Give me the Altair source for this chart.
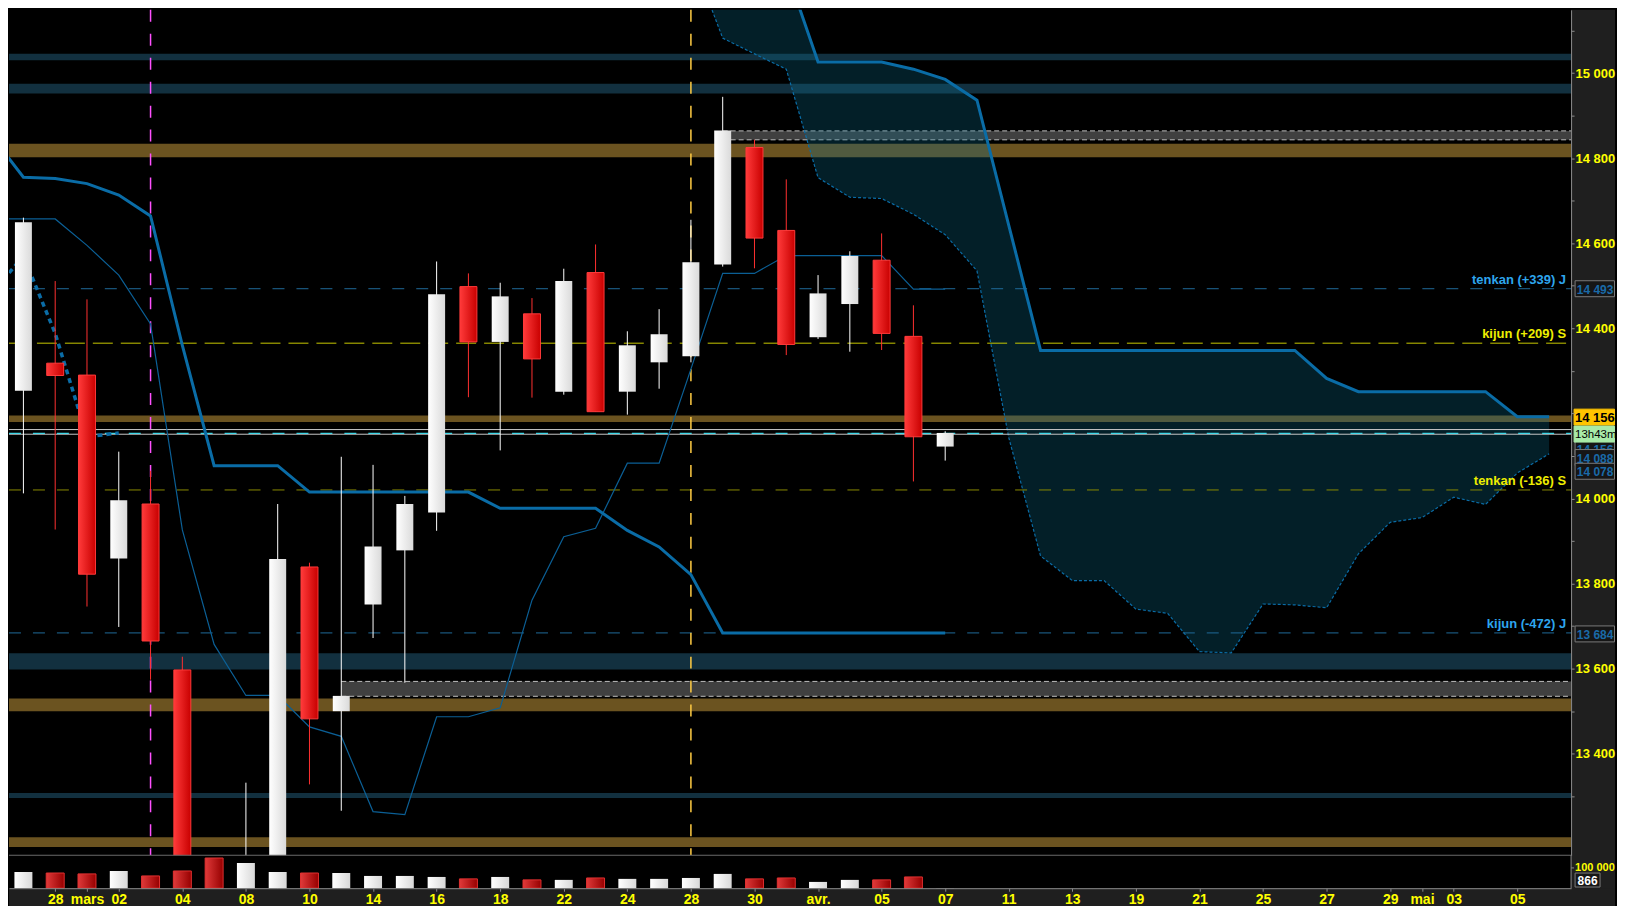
import altair as alt
import pandas as pd

# ---------------- data ----------------
idx = list(range(30))
o = [14253,14318,14290,13859,13987,13597,13120,12850,13060,13839,13500,13751,13878,13967,14498,
     14368,14434,14251,14531,14251,14320,14334,14550,14825,14630,14379,14457,14560,14381,14122]
h = [14660,14511,14468,14110,14065,13628,13150,13332,13987,13849,14098,14079,14006,14557,14529,
     14507,14471,14540,14597,14393,14445,14655,14944,14843,14750,14525,14581,14623,14454,14158]
l = [14012,13927,13746,13698,13574,13050,12700,12780,12990,13328,13266,13672,13567,13924,14238,
     14113,14237,14244,14204,14197,14258,14320,14545,14541,14337,14375,14345,14349,14040,14089]
c = [14649,14289,13822,13996,13665,13100,12800,13140,13858,13482,13536,13887,13987,14480,14368,
     14475,14328,14511,14204,14360,14386,14555,14865,14612,14362,14482,14570,14388,14145,14154]
volume = [80000,75000,70500,85000,60500,85000,149000,124500,80000,75000,75000,60500,60500,55500,46000,
          55500,41000,41000,50500,46000,46000,50500,70500,46000,50500,31000,41000,41000,55500,866]

line_idx = list(range(-1, 30))
tenkan = [14657,14657,14657,14595,14525,14410,13926,13657,13537,13537,13463,13441,13264,13257,13487,13487,
          13508,13761,13910,13930,14083,14083,14304,14529,14529,14571,14571,14571,14571,14492,14492]
kijun = [14852,14755,14752,14740,14713,14664,14360,14077,14077,14077,14015,14015,14015,14015,14015,14015,
         13977,13977,13977,13977,13925,13886,13821,13684,13684,13684,13684,13684,13684,13684,13684]

cloud_idx = list(range(21, 49))
senkou_a = [15280,15082,15045,15009,14754,14708,14705,14668,14620,14535,14143,13865,13807,13807,
            13740,13730,13640,13637,13752,13750,13743,13870,13944,13955,14003,13986,14060,14105]
senkou_b = [15420,15360,15300,15243,15026,15026,15026,15009,14985,14936,14642,14348,14348,14348,
            14348,14348,14348,14348,14348,14348,14282,14251,14251,14251,14251,14251,14192,14192]

x_tick_idx = [1,2,3,5,7,9,11,13,15,17,19,21,23,25,27,29,31,33,35,37,39,41,43,44,45,47]
x_tick_lbl = ["28","mars","02","04","08","10","14","16","18","22","24","28","30","avr.","05","07",
              "11","13","19","21","25","27","29","mai","03","05"]

band_lo = [15030,14952,14843,14802,14180,13598,13535,13500,13296,13181]
band_hi = [15045,14975,14864,14834,14195,13636,13570,13530,13308,13204]
band_start = [-1,-1,22,-1,-1,-1,10,-1,-1,-1]
band_kind = ["blue","blue","gray","brown","brown","blue","gray","brown","blue","brown"]

lvl_price = [14493, 14365, 14020, 13684]
lvl_text = ["tenkan (+339) J", "kijun (+209) S", "tenkan (-136) S", "kijun (-472) J"]
lvl_kind = ["blue", "yellow", "olive", "blue"]

last_price = 14156
price_lines = [14162, 14151]
cyan_line = 14153
vlines_idx = [4, 21]

# ---------------- styling ----------------
W, HP, HV, RW, BH = 1565, 847, 33, 44, 18
H = HP + HV
FONT = "Liberation Sans"
BAND_COL = {"blue": "#12303f", "gray": "#404040", "brown": "#6b5320"}
LVL_COL = {"blue": "#1f6a9a", "yellow": "#c8c800", "olive": "#8a8a00"}
LVL_DASH = {"blue": [12, 12], "yellow": [20, 8], "olive": [12, 12]}
LVL_TXT = {"blue": "#2ea6ee", "yellow": "#eeee00", "olive": "#eeee00"}
ICHI = "#0a6ca6"

def grad(c1, c2):
    return {"gradient": "linear", "x1": 0, "x2": 1, "y1": 0, "y2": 0,
            "stops": [{"offset": 0, "color": c1}, {"offset": 1, "color": c2}]}

xs = alt.Scale(domain=[-0.2964, 48.534], nice=False, zero=False)
ps = alt.Scale(domain=[13161.4, 15148.5], range=[HP, 0], nice=False, zero=False)
vs = alt.Scale(domain=[0, 162560], range=[H, HP], nice=False, zero=False)

lbl_arr = [""] * 49
for i, t in zip(x_tick_idx, x_tick_lbl):
    lbl_arr[i] = t
x_expr = "[" + ",".join("'" + s + "'" for s in lbl_arr) + "][round(datum.value)]"

xaxis = alt.Axis(values=x_tick_idx, labelExpr=x_expr, orient="bottom", tickSize=3,
                 tickColor="#8c8c8c", domainColor="#8c8c8c", labelColor="#ffff00",
                 labelFont=FONT, labelFontSize=14, labelFontWeight="bold", labelPadding=1,
                 grid=False, title=None, labelOverlap=False, zindex=1)
yaxis = alt.Axis(values=list(range(13300, 15101, 100)),
                 labelExpr="(datum.value % 200 == 0 && datum.value != 14200) ? replace(format(datum.value, ','), ',', ' ') : ''",
                 orient="right", tickSize=3, tickColor="#8c8c8c", domainColor="#8c8c8c",
                 labelColor="#ffff00", labelFont=FONT, labelFontSize=13, labelFontWeight="bold",
                 labelPadding=1, grid=False, title=None, labelOverlap=False, zindex=1)

def PX(f="i"):
    return alt.X(f + ":Q", scale=xs, axis=xaxis)

def PY(f):
    return alt.Y(f + ":Q", scale=ps, axis=yaxis)

def VY(f):
    return alt.Y(f + ":Q", scale=vs, axis=None)

one = pd.DataFrame({"k": [0]})
P = []

# axis backgrounds
P.append(alt.Chart(one).mark_rect(color="#1f1f1f").encode(
    x=alt.value(W), x2=alt.value(W + RW), y=alt.value(0), y2=alt.value(H + BH)))
P.append(alt.Chart(one).mark_rect(color="#1f1f1f").encode(
    x=alt.value(0), x2=alt.value(W + RW), y=alt.value(H), y2=alt.value(H + BH)))

# horizontal zones
bands = pd.DataFrame({"lo": band_lo, "hi": band_hi, "s": band_start, "e": [49] * len(band_lo),
                      "col": [BAND_COL[k] for k in band_kind]})
P.append(alt.Chart(bands).mark_rect(clip=True).encode(
    x=PX("s"), x2=alt.X2("e"), y=PY("lo"), y2=alt.Y2("hi"), color=alt.Color("col:N", scale=None)))
gb = bands[[k == "gray" for k in band_kind]]
gb_edges = pd.DataFrame({"p": list(gb["lo"]) + list(gb["hi"]), "s": list(gb["s"]) * 2, "e": [49] * (2 * len(gb))})
P.append(alt.Chart(gb_edges).mark_rule(color="#bdbdbd", strokeDash=[5, 3], clip=True).encode(
    x=PX("s"), x2=alt.X2("e"), y=PY("p")))

# cloud
cloud = pd.DataFrame({"i": cloud_idx, "a": senkou_a, "b": senkou_b})
P.append(alt.Chart(cloud).mark_area(clip=True, color="#0b7090", opacity=0.28).encode(
    x=PX("i"), y=PY("a"), y2=alt.Y2("b")))
P.append(alt.Chart(cloud).mark_line(clip=True, color=ICHI, strokeWidth=1.2, strokeDash=[3, 2]).encode(
    x=PX("i"), y=PY("a")))
P.append(alt.Chart(cloud).mark_line(clip=True, color=ICHI, strokeWidth=3).encode(
    x=PX("i"), y=PY("b")))

# level lines and labels
for p, t, k in zip(lvl_price, lvl_text, lvl_kind):
    d = pd.DataFrame({"p": [p]})
    P.append(alt.Chart(d).mark_rule(color=LVL_COL[k], strokeDash=LVL_DASH[k], strokeWidth=1).encode(
        x=alt.value(0), x2=alt.value(W), y=PY("p")))
    P.append(alt.Chart(d).mark_text(align="right", baseline="middle", dy=-9, font=FONT, fontSize=13,
                                    fontWeight="bold", color=LVL_TXT[k]).encode(
        x=alt.value(W - 5), y=PY("p"), text=alt.value(t)))

pl = pd.DataFrame({"p": price_lines})
P.append(alt.Chart(pl).mark_rule(color="#c8c8c8", strokeWidth=1).encode(
    x=alt.value(0), x2=alt.value(W), y=PY("p")))
P.append(alt.Chart(pd.DataFrame({"p": [cyan_line]})).mark_rule(
    color="#40d8e8", strokeDash=[12, 12], strokeWidth=1.5).encode(x=alt.value(0), x2=alt.value(W), y=PY("p")))

# vertical session lines
vl = pd.DataFrame({"i": vlines_idx, "col": ["#ff50ff", "#ffcc44"]})
P.append(alt.Chart(vl).mark_rule(strokeDash=[12, 12], strokeWidth=1.5).encode(
    x=PX("i"), y=alt.value(0), y2=alt.value(HP), color=alt.Color("col:N", scale=None)))

# tenkan / kijun / chikou
tk = pd.DataFrame({"i": line_idx, "t": tenkan, "k": kijun})
P.append(alt.Chart(tk).mark_line(clip=True, color="#0b5f95", strokeWidth=1.2).encode(x=PX("i"), y=PY("t")))
P.append(alt.Chart(tk).mark_line(clip=True, color=ICHI, strokeWidth=3).encode(x=PX("i"), y=PY("k")))
ch = pd.DataFrame({"i": [i - 26 for i in idx if i >= 25], "v": [c[i] for i in idx if i >= 25]})
P.append(alt.Chart(ch).mark_line(clip=True, color=ICHI, strokeWidth=3.5, strokeDash=[5, 4]).encode(
    x=PX("i"), y=PY("v")))

# candles
cd = pd.DataFrame({"i": idx, "o": o, "h": h, "l": l, "c": c})
up = alt.Chart(cd).transform_filter("datum.c >= datum.o")
dn = alt.Chart(cd).transform_filter("datum.c < datum.o")
P.append(up.mark_rule(clip=True, color="#ffffff").encode(x=PX("i"), y=PY("l"), y2=alt.Y2("h")))
P.append(dn.mark_rule(clip=True, color="#ff3030").encode(x=PX("i"), y=PY("l"), y2=alt.Y2("h")))
P.append(up.mark_bar(clip=True, size=17, fill=grad("#ffffff", "#dadada")).encode(
    x=PX("i"), y=PY("o"), y2=alt.Y2("c")))
P.append(dn.mark_bar(clip=True, size=17, fill=grad("#ff3a3a", "#c80000"), stroke="#ff3a3a", strokeWidth=1).encode(
    x=PX("i"), y=PY("o"), y2=alt.Y2("c")))

# value boxes on the price axis (box offset, text offset in px)
boxes = [
    ("14 493", 14493, 0, 1, "#161616", "#7a7a7a", "#1a6aa8", "bold", 12, "center"),
    ("13 684", 13684, 1, 2, "#161616", "#7a7a7a", "#1a6aa8", "bold", 12, "center"),
    ("14 156", last_price, 15, 18, "#161616", "#7a7a7a", "#1a6aa8", "bold", 12, "center"),
    ("14 088", 14088, -3.5, -2.5, "#161616", "#7a7a7a", "#1a6aa8", "bold", 12, "center"),
    ("14 078", 14078, 6, 7, "#161616", "#7a7a7a", "#1a6aa8", "bold", 12, "center"),
    ("14 156", last_price, -15, -14, "#ffc400", "#ffc400", "#000000", "bold", 13, "left"),
    ("13h43m", last_price, 2, 2.5, "#a8eaa8", "#a8eaa8", "#000000", "normal", 11.5, "left"),
]
for txt, p, off, toff, fill, stroke, tcol, fw, fs, al in boxes:
    d = pd.DataFrame({"p": [p]})
    x1 = W + 4 if al == "center" else W + 3
    P.append(alt.Chart(d).mark_rect(fill=fill, stroke=stroke, strokeWidth=1, yOffset=off - 8, y2Offset=off + 8).encode(
        x=alt.value(x1), x2=alt.value(W + RW - 0.5), y=PY("p"), y2=alt.Y2("p")))
    tx = (x1 + W + RW) / 2 if al == "center" else W + 4
    P.append(alt.Chart(d).mark_text(align=al, baseline="middle", dy=toff, font=FONT, fontSize=fs,
                                    fontWeight=fw, color=tcol).encode(
        x=alt.value(tx), y=PY("p"), text=alt.value(txt)))

# ---------------- volume pane ----------------
V = []
V.append(alt.Chart(one).mark_rect(color="#000000").encode(
    x=alt.value(0), x2=alt.value(W), y=alt.value(HP), y2=alt.value(H)))
V.append(alt.Chart(one).mark_rule(color="#6a6a6a").encode(
    x=alt.value(0), x2=alt.value(W), y=alt.value(HP)))
vd = pd.DataFrame({"i": idx, "v": volume, "o": o, "c": c})
V.append(alt.Chart(vd).transform_filter("datum.c >= datum.o").mark_bar(
    size=18, fill=grad("#ffffff", "#d8d8d8")).encode(x=PX("i"), y=VY("v")))
V.append(alt.Chart(vd).transform_filter("datum.c < datum.o").mark_bar(
    size=18, fill=grad("#e03a3a", "#960000"), stroke="#e03030", strokeWidth=1).encode(x=PX("i"), y=VY("v")))
V.append(alt.Chart(one).mark_rule(color="#8c8c8c").encode(
    x=alt.value(W), y=alt.value(HP), y2=alt.value(H)))
vt = pd.DataFrame({"v": [100000]})
V.append(alt.Chart(vt).mark_rule(color="#8c8c8c").encode(x=alt.value(W), x2=alt.value(W + 3), y=VY("v")))
V.append(alt.Chart(vt).mark_text(align="left", baseline="middle", font=FONT, fontSize=11, fontWeight="bold",
                                 color="#ffff00").encode(x=alt.value(W + 4), y=VY("v"), text=alt.value("100 000")))
vl_last = pd.DataFrame({"v": [volume[-1]]})
V.append(alt.Chart(vl_last).mark_rect(fill="#161616", stroke="#7a7a7a", yOffset=-15, y2Offset=-1).encode(
    x=alt.value(W + 4), x2=alt.value(W + 29), y=VY("v"), y2=alt.Y2("v")))
V.append(alt.Chart(vl_last).mark_text(align="center", baseline="middle", dy=-7, font=FONT, fontSize=12,
                                      fontWeight="bold", color="#ffffff").encode(
    x=alt.value(W + 16.5), y=VY("v"), text=alt.value(str(volume[-1]))))

chart = alt.layer(alt.layer(*P), alt.layer(*V)).resolve_scale(y="independent").properties(
    width=W, height=H, padding=0, background="#000000"
).configure(font=FONT).configure_view(strokeWidth=0)

chart.save("out.html", embed_options={"renderer": "svg", "actions": False})
